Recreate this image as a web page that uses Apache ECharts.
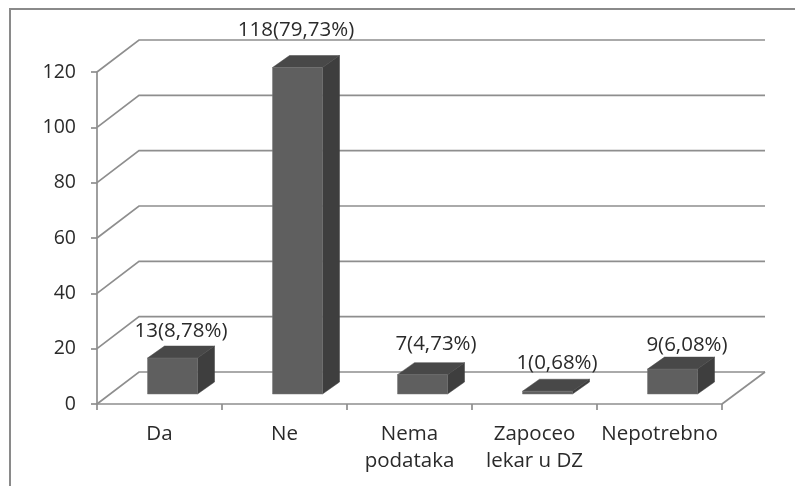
<!DOCTYPE html>
<html><head><meta charset="utf-8">
<style>html,body{margin:0;padding:0;background:#fff}#c{width:795px;height:486px}</style>
<script src="https://cdn.jsdelivr.net/npm/echarts@6/dist/echarts.min.js"></script>
</head><body><div id="c"></div>
<script>
const categories = ['Da', 'Ne', 'Nema\npodataka', 'Zapoceo\nlekar u DZ', 'Nepotrebno'];
const counts = [13, 118, 7, 1, 9];
const percents = ['8,78%', '79,73%', '4,73%', '0,68%', '6,08%'];
const yTicks = [0, 20, 40, 60, 80, 100, 120];

const FAMILY = '"Open Sans", Lato, sans-serif';
const FONT = '20.5px ' + FAMILY;
const GRID = '#8e8e8e', TXT = '#2a2a2a';
const WALL = [42, -32];            // floor depth
const BASE = [13, -10];            // bar base set back from the front edge
const BAR_D = [17, -12];           // bar depth
const NUDGE = [[0,1],[-10,-9.5],[5,-2],[1,0],[6,4]]; // label offsets from bar back-top

const chart = echarts.init(document.getElementById('c'), null, {renderer:'canvas'});

function wallItem(params, api) {
  const v = api.value(1), p = api.coord([0, v]), band = api.size([1, 0])[0];
  const x0 = p[0] - band / 2, y = p[1], x1 = x0 + band * categories.length;
  const st = {stroke: GRID, lineWidth: 1.7, fill: null};
  const kids = [{type:'polyline', shape:{points:[[x0,y],[x0+WALL[0],y+WALL[1]],[x1+WALL[0]+1,y+WALL[1]]]}, style:st}];
  if (v === 0) kids.push({type:'line', shape:{x1:x1,y1:y,x2:x1+WALL[0]+1,y2:y+WALL[1]}, style:st});
  return {type:'group', children:kids};
}

function barItem(params, api) {
  const i = api.value(0), v = api.value(1);
  const b = api.coord([i, 0]), t = api.coord([i, v]);
  const w = api.size([1, 0])[0] * 0.4;
  const xl = b[0] - w/2 + BASE[0], xr = xl + w;
  const yb = b[1] + BASE[1], yt = t[1] + BASE[1];
  const dx = BAR_D[0], dy = BAR_D[1];
  const n = NUDGE[i];
  return {type:'group', children:[
    {type:'polygon', shape:{points:[[xr,yb],[xr+dx,yb+dy],[xr+dx,yt+dy],[xr,yt]]}, style:{fill:'#3e3e3e', stroke:'#3e3e3e', lineWidth:.5}},
    {type:'polygon', shape:{points:[[xl,yt],[xl+dx,yt+dy],[xr+dx,yt+dy],[xr,yt]]}, style:{fill:'#484848', stroke:'#484848', lineWidth:.5}},
    {type:'rect', shape:{x:xl,y:yt,width:w,height:yb-yt}, style:{fill:'#5f5f5f', stroke:'#777', lineWidth:.5}},
    {type:'text', style:{x:(xl+xr+dx)/2+n[0], y:yt+dy-16+n[1], text:counts[i]+'('+percents[i]+')', font:FONT, fill:TXT, align:'center', verticalAlign:'middle'}}
  ]};
}

chart.setOption({
  animation:false,
  backgroundColor:'#fff',
  grid:{left:97, right:73, top:72, bottom:82, containLabel:false},
  graphic:[{type:'polyline', silent:true, z:-1, shape:{points:[[10,486],[10,9],[795,9]]}, style:{stroke:'#8a8a8a', lineWidth:2, fill:null}}],
  xAxis:{type:'category', data:categories, boundaryGap:true,
    axisLine:{lineStyle:{color:GRID, width:1.7}},
    axisTick:{show:true, alignWithLabel:false, length:6, lineStyle:{color:GRID, width:1.7}},
    axisLabel:{interval:0, color:TXT, fontFamily:FAMILY, fontSize:20.5, lineHeight:27, margin:17},
    splitLine:{show:false}},
  yAxis:{type:'value', min:0, max:120, interval:20,
    axisLine:{show:true, lineStyle:{color:GRID, width:1.7}},
    axisTick:{show:true, length:6, lineStyle:{color:GRID, width:1.7}},
    axisLabel:{color:TXT, fontFamily:FAMILY, fontSize:19.5, margin:21},
    splitLine:{show:false}},
  series:[
    {type:'custom', z:1, silent:true, clip:false, renderItem:wallItem, data:yTicks.map(v=>[0,v]), encode:{x:0,y:1}},
    {type:'custom', z:2, silent:true, clip:false, renderItem:barItem, data:counts.map((v,i)=>[i,v]), encode:{x:0,y:1}}
  ]
});
</script></body></html>
